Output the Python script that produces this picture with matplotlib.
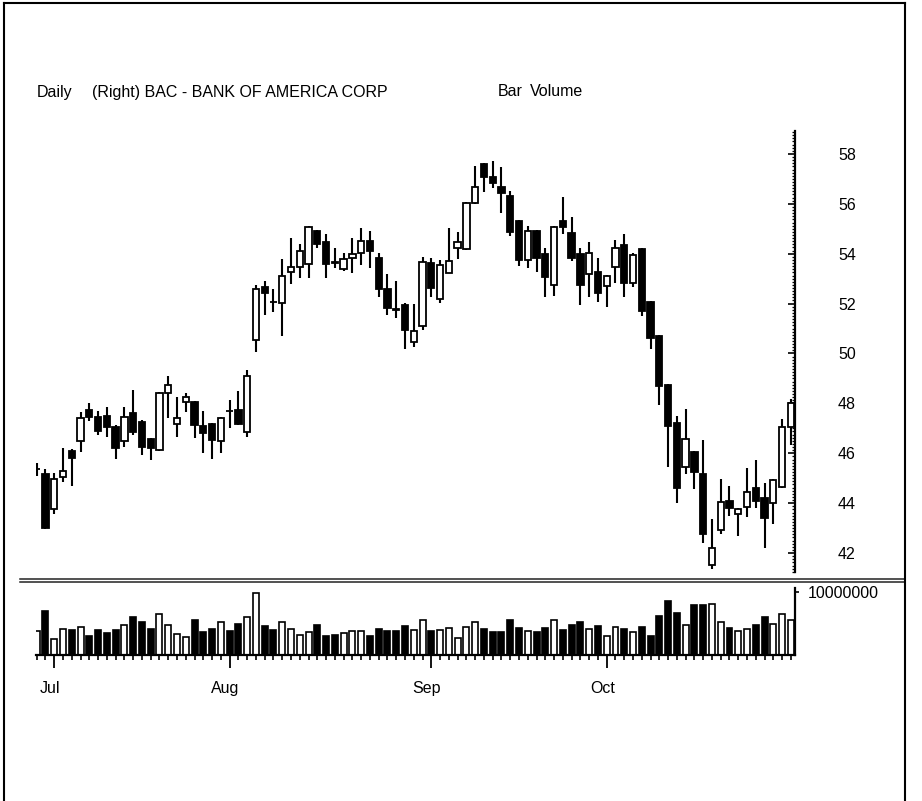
import numpy as np
import matplotlib
matplotlib.use("Agg")
import matplotlib.pyplot as plt
from matplotlib.ticker import MultipleLocator, FixedLocator, NullFormatter
from matplotlib.lines import Line2D

plt.rcParams['font.family'] = ['Liberation Sans', 'DejaVu Sans']

# daily OHLC (late Jun .. end of Oct)
opens = [45.35, 45.17, 43.76, 45.04, 46.09, 46.49, 47.74, 47.44, 47.50, 47.04,
         46.49, 47.63, 47.27, 46.57, 46.13, 48.43, 47.16, 48.04, 48.04, 47.11,
         47.16, 46.49, 47.71, 47.74, 46.87, 50.54, 52.65, 52.08, 52.04, 53.26,
         53.46, 53.58, 54.91, 54.48, 53.66, 53.38, 53.82, 54.01, 54.52, 53.82,
         52.59, 51.77, 51.95, 50.47, 51.10, 53.64, 52.17, 53.24, 54.24, 54.19,
         56.02, 57.60, 57.09, 56.66, 56.32, 55.31, 53.75, 54.91, 53.98, 52.75,
         55.31, 54.82, 53.98, 53.19, 53.28, 52.71, 53.46, 54.35, 52.82, 54.19,
         52.08, 50.70, 48.74, 47.23, 45.44, 46.04, 45.17, 41.52, 42.92, 44.10,
         43.57, 43.86, 44.60, 44.19, 44.02, 44.64, 47.07]
highs = [45.60, 45.36, 45.20, 46.22, 46.18, 47.67, 48.00, 47.70, 47.87, 47.14,
         47.85, 48.54, 47.34, 46.60, 48.47, 49.10, 48.27, 48.43, 48.10, 47.70,
         47.20, 47.47, 48.14, 48.51, 49.34, 52.75, 52.91, 52.57, 53.79, 54.64,
         54.39, 55.11, 54.95, 54.79, 54.24, 54.04, 54.62, 55.05, 54.92, 54.02,
         53.18, 52.91, 52.01, 51.97, 53.88, 53.82, 53.75, 55.02, 54.89, 56.09,
         57.52, 57.63, 57.72, 57.47, 56.53, 55.35, 55.11, 54.95, 54.24, 55.11,
         56.26, 55.49, 54.22, 54.46, 53.82, 53.15, 54.55, 54.79, 54.02, 54.22,
         52.12, 50.74, 48.77, 47.49, 47.76, 46.11, 46.53, 43.35, 44.96, 44.69,
         43.79, 45.39, 45.73, 44.82, 44.96, 47.37, 48.17]
lows = [45.10, 42.95, 43.57, 44.86, 44.69, 46.06, 47.30, 46.73, 46.67, 45.76,
        46.27, 46.73, 45.93, 45.73, 46.09, 47.40, 46.67, 47.67, 46.60, 46.03,
        45.76, 46.03, 47.00, 47.13, 46.67, 50.07, 51.54, 51.68, 50.72, 52.79,
        53.04, 53.04, 54.22, 53.04, 53.42, 53.32, 53.24, 53.55, 53.42, 52.28,
        51.54, 51.41, 50.17, 50.25, 50.94, 52.28, 52.01, 53.22, 53.78, 54.15,
        55.98, 56.46, 56.62, 55.65, 54.71, 53.51, 53.42, 53.26, 52.28, 52.32,
        54.78, 53.71, 51.95, 52.28, 52.08, 51.88, 52.84, 52.28, 52.68, 51.50,
        50.18, 47.94, 45.46, 44.02, 45.17, 44.56, 42.42, 41.35, 42.76, 43.49,
        42.68, 43.46, 43.79, 42.21, 43.16, 44.60, 46.33]
closes = [45.36, 43.00, 44.96, 45.29, 45.80, 47.40, 47.47, 46.91, 47.04, 46.22,
          47.47, 46.87, 46.27, 46.22, 48.40, 48.74, 47.43, 48.25, 47.13, 46.83,
          46.53, 47.40, 47.69, 47.18, 49.10, 52.57, 52.41, 52.06, 53.12, 53.48,
          54.12, 55.08, 54.39, 53.58, 53.64, 53.79, 53.98, 54.51, 54.12, 52.59,
          51.82, 51.75, 50.94, 50.92, 53.68, 52.61, 53.55, 53.71, 54.46, 56.05,
          56.69, 57.07, 56.85, 56.42, 54.88, 53.75, 54.91, 53.84, 53.08, 55.06,
          55.06, 53.82, 52.75, 54.04, 52.41, 53.12, 54.22, 52.82, 53.95, 51.71,
          50.61, 48.71, 47.10, 44.60, 46.57, 45.23, 42.76, 42.19, 44.06, 43.79,
          43.75, 44.46, 44.10, 43.39, 44.93, 47.04, 48.03]
# volume in millions of shares
volume_m = [3.75, 7.0, 2.6, 4.2, 3.9, 4.4, 3.0, 3.9, 3.5, 3.9,
            4.8, 6.1, 5.2, 4.1, 6.5, 4.7, 3.4, 2.9, 5.6, 3.6,
            4.2, 5.3, 3.8, 4.9, 6.1, 9.9, 4.6, 4.0, 5.2, 4.2,
            3.2, 3.6, 4.8, 3.0, 3.2, 3.5, 3.75, 3.75, 3.0, 4.2,
            3.75, 3.8, 4.6, 4.0, 5.6, 3.75, 4.0, 4.3, 2.7, 4.5,
            5.2, 4.2, 3.6, 3.6, 5.6, 4.3, 3.75, 3.6, 4.3, 5.5,
            4.0, 4.8, 5.2, 4.1, 4.6, 3.0, 4.5, 4.2, 3.6, 4.4,
            3.0, 6.25, 8.5, 6.6, 4.8, 8.0, 8.0, 8.1, 5.3, 4.3,
            3.75, 4.1, 4.7, 6.1, 4.9, 6.5, 5.5]

month_labels = ['Jul', 'Aug', 'Sep', 'Oct']
month_start = [2, 22, 45, 65]
price_ticks = [42, 44, 46, 48, 50, 52, 54, 56, 58]

o = np.array(opens)
h = np.array(highs)
l = np.array(lows)
c = np.array(closes)
vol = np.array(volume_m) * 1e6
idx = np.arange(len(o))
up = c >= o
face = np.where(up, 'white', 'black')

W, H = 922, 801
fig = plt.figure(figsize=(W / 100, H / 100), dpi=100)

def fx(px):
    return px / W

def fy(py):
    return 1 - py / H

fs = 11.5
x_left, x_right = 35.8, 795
ax = fig.add_axes([fx(x_left), fy(572), fx(x_right - x_left), (572 - 131) / H])
axv = fig.add_axes([fx(x_left), fy(655), fx(x_right - x_left), (655 - 588) / H])

# candles
body_w = 0.72
ax.vlines(idx, l, h, color='black', linewidth=1.5, zorder=2)
body_h = np.maximum(np.abs(c - o), 0.02)
ax.bar(idx, body_h, bottom=np.minimum(o, c), width=body_w, color=face,
       edgecolor='black', linewidth=1.3, zorder=3)
ax.set_xlim(-0.1, 86.47)
ax.set_ylim(41.24, 58.92)
for s in ['left', 'top', 'bottom']:
    ax.spines[s].set_visible(False)
ax.spines['right'].set_linewidth(1.6)
ax.yaxis.tick_right()
ax.set_yticks(price_ticks)
ax.yaxis.set_minor_locator(MultipleLocator(0.125))
ax.tick_params(axis='y', which='major', direction='in', length=5, width=1.2,
               pad=31, labelsize=fs)
ax.tick_params(axis='y', which='minor', direction='in', length=2.5, width=0.9)
ax.set_xticks([])

# volume
axv.bar(idx, vol, width=0.68, color=face, edgecolor='black', linewidth=1.2)
axv.set_xlim(-0.1, 86.47)
axv.set_ylim(0, 1.063e7)
axv.spines['left'].set_visible(False)
axv.spines['top'].set_visible(False)
axv.spines['right'].set_linewidth(1.6)
axv.spines['bottom'].set_linewidth(1.6)
axv.yaxis.tick_right()
axv.set_yticks([1e7])
axv.set_yticklabels(['10000000'])
axv.tick_params(axis='y', direction='out', length=3, width=1.2, pad=6, labelsize=fs)
axv.xaxis.set_major_locator(FixedLocator(month_start))
axv.xaxis.set_minor_locator(FixedLocator(idx))
axv.xaxis.set_major_formatter(NullFormatter())
axv.tick_params(axis='x', which='major', direction='out', length=9, width=1.3)
axv.tick_params(axis='x', which='minor', direction='out', length=3.8, width=1.2)
for m, lab in zip(month_start, month_labels):
    axv.text(m - 0.5, -0.5, lab, transform=axv.get_xaxis_transform(),
             ha='center', va='center', fontsize=fs)

# header texts
fig.text(fx(37), fy(92), 'Daily', fontsize=fs, va='center')
fig.text(fx(92), fy(92), '(Right) BAC - BANK OF AMERICA CORP', fontsize=fs, va='center')
fig.text(fx(498), fy(92), 'Bar', fontsize=fs, va='center')
fig.text(fx(530), fy(92), 'Volume', fontsize=fs, va='center')

# panel separator (double rule) and page frame
for yy in (578.5, 582):
    fig.add_artist(Line2D([fx(20), fx(905)], [fy(yy), fy(yy)], color='#222222', linewidth=1.1))
fig.add_artist(Line2D([fx(4), fx(4)], [fy(3), 0], color='black', linewidth=1.5))
fig.add_artist(Line2D([fx(4), fx(905)], [fy(3), fy(3)], color='black', linewidth=1.5))
fig.add_artist(Line2D([fx(905), fx(905)], [fy(3), 0], color='black', linewidth=1.5))

fig.savefig('out.png', dpi=100, facecolor='white')
